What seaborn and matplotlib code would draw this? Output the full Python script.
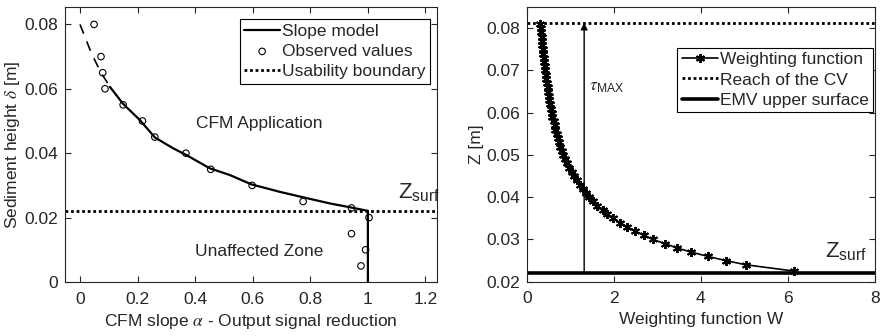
import numpy as np
import matplotlib
matplotlib.use('Agg')
import matplotlib.pyplot as plt
import seaborn as sns

# --- data ---
# left panel: CFM slope model (solid part + vertical drop at alpha = 1)
alpha_model = [0.104, 0.150, 0.208, 0.260, 0.324, 0.370, 0.451, 0.521, 0.596,
               0.694, 0.775, 0.868, 0.938, 1.0, 1.0]
delta_model = [0.0606, 0.0553, 0.0503, 0.0449, 0.0415, 0.0394, 0.0353, 0.0332, 0.0303,
               0.0280, 0.0263, 0.0244, 0.0232, 0.0221, 0.0]
# dashed extrapolation of the model above the fitted range
alpha_extra = [0.0, 0.02, 0.04, 0.07, 0.104]
delta_extra = [0.080, 0.0755, 0.0710, 0.0655, 0.0606]
# observed values
alpha_obs = [0.049, 0.073, 0.079, 0.087, 0.150, 0.217, 0.260, 0.368, 0.454, 0.598,
             0.775, 0.943, 1.004, 0.943, 0.992, 0.976]
delta_obs = [0.080, 0.070, 0.065, 0.060, 0.055, 0.050, 0.045, 0.040, 0.035, 0.030,
             0.025, 0.023, 0.020, 0.015, 0.010, 0.005]
Z_SURF = 0.022

# right panel: weighting function W(z)
z_w = [0.0225, 0.024, 0.025, 0.026, 0.027, 0.028, 0.029, 0.030, 0.031, 0.032,
       0.033, 0.034, 0.035, 0.036, 0.037, 0.038, 0.039, 0.040, 0.041, 0.042,
       0.043, 0.044, 0.045, 0.046, 0.047, 0.048, 0.049, 0.050, 0.051, 0.052,
       0.053, 0.054, 0.055, 0.056, 0.057, 0.058, 0.059, 0.060, 0.061, 0.062,
       0.063, 0.064, 0.065, 0.066, 0.067, 0.068, 0.069, 0.070, 0.071, 0.072,
       0.073, 0.074, 0.075, 0.076, 0.077, 0.078, 0.079, 0.080, 0.081]
w_vals = [6.15, 5.04, 4.57, 4.16, 3.78, 3.45, 3.18, 2.89, 2.69, 2.49,
          2.31, 2.14, 1.99, 1.85, 1.75, 1.62, 1.53, 1.44, 1.36, 1.29,
          1.22, 1.15, 1.08, 1.03, 0.98, 0.93, 0.88, 0.84, 0.80, 0.77,
          0.74, 0.71, 0.69, 0.66, 0.64, 0.62, 0.59, 0.57, 0.55, 0.54,
          0.52, 0.51, 0.49, 0.48, 0.46, 0.45, 0.44, 0.42, 0.41, 0.40,
          0.39, 0.38, 0.37, 0.36, 0.35, 0.34, 0.33, 0.32, 0.31]
Z_REACH = 0.0813
Z_EMV = 0.022
TAU_W = 1.32

sns.set_style('ticks')
plt.rcParams['font.family'] = ['Liberation Sans', 'DejaVu Sans']
plt.rcParams['mathtext.fontset'] = 'stix'   # serif greek like MATLAB's tex
plt.rcParams['font.size'] = 12.5
AX_COL = '#262626'

fig = plt.figure(figsize=(8.83, 3.36), dpi=100)
ax1 = fig.add_axes([65 / 883, 54 / 336, 372 / 883, 275 / 336])
ax2 = fig.add_axes([526.7 / 883, 54.3 / 336, 348.3 / 883, 275 / 336])


def matlab_axes(ax):
    for sp in ax.spines.values():
        sp.set_visible(True)
        sp.set_color(AX_COL)
        sp.set_linewidth(0.8)
    ax.tick_params(direction='in', length=4, width=0.8, color=AX_COL,
                   top=True, right=True, labelsize=12.5, pad=5)
    ax.tick_params(axis='x', pad=7)


# --- left panel ---
sns.lineplot(x=alpha_extra, y=delta_extra, sort=False, estimator=None, ax=ax1,
             color='black', lw=1.2, linestyle=(0, (6, 5)), label='_nolegend_')
sns.lineplot(x=alpha_model, y=delta_model, sort=False, estimator=None, ax=ax1,
             color='black', lw=1.6, label='Slope model')
sns.scatterplot(x=alpha_obs, y=delta_obs, ax=ax1, marker='o', s=22,
                facecolor='none', edgecolor='black', linewidth=0.8,
                label='Observed values', zorder=5)
ax1.axhline(Z_SURF, color='black', lw=2, linestyle=(0, (1, 1)),
            label='Usability boundary')
ax1.set_xlim(-0.052, 1.24)
ax1.set_ylim(0, 0.0854)
ax1.set_xticks([0, 0.2, 0.4, 0.6, 0.8, 1.0, 1.2])
ax1.set_xticklabels(['0', '0.2', '0.4', '0.6', '0.8', '1', '1.2'])
ax1.set_yticks([0, 0.02, 0.04, 0.06, 0.08])
ax1.set_yticklabels(['0', '0.02', '0.04', '0.06', '0.08'])
ax1.set_xlabel(r'CFM slope $\alpha$ - Output signal reduction', labelpad=4)
ax1.set_ylabel(r'Sediment height $\delta$ [m]', labelpad=2)
ax1.text(0.623, 0.0492, 'CFM Application', ha='center', va='center', fontsize=12.5)
ax1.text(0.623, 0.0096, 'Unaffected Zone', ha='center', va='center', fontsize=12.5)
ax1.text(1.105, 0.0262, r'Z$_\mathregular{surf}$', ha='left', va='baseline', fontsize=16)
matlab_axes(ax1)
leg1 = ax1.legend(loc='upper right', bbox_to_anchor=(0.981, 0.956), fancybox=False,
                  edgecolor='black', framealpha=1, borderpad=0.25, labelspacing=0.3,
                  handlelength=2.1, handletextpad=0.1, borderaxespad=0, fontsize=12.5)
leg1.get_frame().set_linewidth(0.8)

# --- right panel ---
sns.lineplot(x=w_vals, y=z_w, sort=False, estimator=None, ax=ax2, color='black',
             lw=1.2, marker=(6, 2, 0), markersize=6.5, markeredgewidth=1.4,
             markeredgecolor='black', label='Weighting function')
ax2.axhline(Z_REACH, color='black', lw=2, linestyle=(0, (1, 1)),
            label='Reach of the CV')
ax2.axhline(Z_EMV, color='black', lw=2.6, label='EMV upper surface')
ax2.annotate('', xy=(TAU_W, Z_REACH), xytext=(TAU_W, Z_EMV),
             arrowprops=dict(arrowstyle='-|>', color='black', lw=1,
                             mutation_scale=10, shrinkA=0, shrinkB=0))
ax2.text(TAU_W + 0.1, 0.0652, r'$\tau_\mathregular{MAX}$', ha='left', va='baseline',
         fontsize=12.5)
ax2.text(6.85, 0.0258, r'Z$_\mathregular{surf}$', ha='left', va='baseline', fontsize=16)
ax2.set_xlim(0, 8)
ax2.set_ylim(0.02, 0.0851)
ax2.set_xticks([0, 2, 4, 6, 8])
ax2.set_yticks([0.02, 0.03, 0.04, 0.05, 0.06, 0.07, 0.08])
ax2.set_yticklabels(['0.02', '0.03', '0.04', '0.05', '0.06', '0.07', '0.08'])
ax2.set_xlabel('Weighting function W', labelpad=4)
ax2.set_ylabel('Z [m]', labelpad=1)
matlab_axes(ax2)
leg2 = ax2.legend(loc='upper right', bbox_to_anchor=(0.994, 0.851), fancybox=False,
                  edgecolor='black', framealpha=1, borderpad=0.25, labelspacing=0.3,
                  handlelength=2.1, handletextpad=0.1, borderaxespad=0, fontsize=12.5)
leg2.get_frame().set_linewidth(0.8)

fig.savefig('out.png', dpi=100)
